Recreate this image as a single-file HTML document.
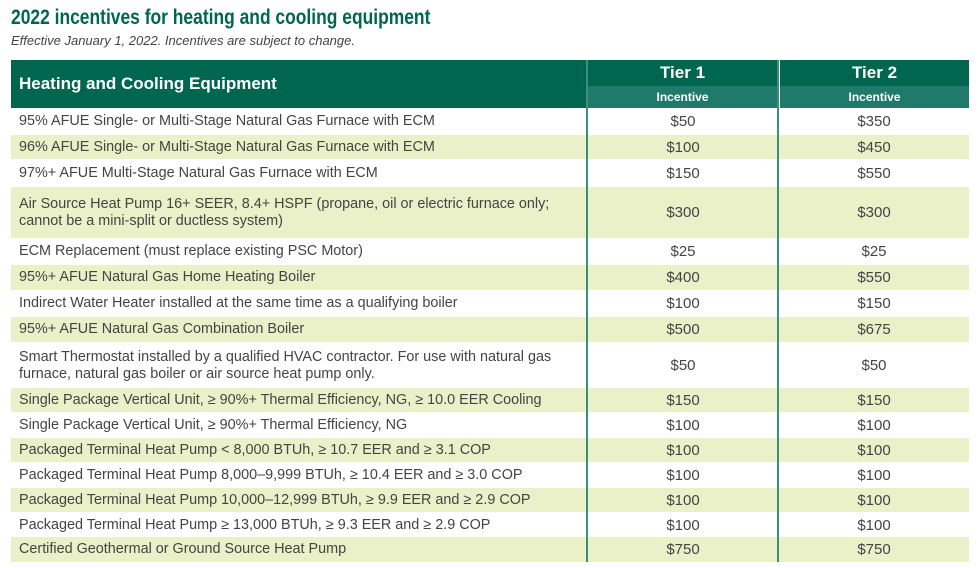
<!DOCTYPE html>
<html><head><meta charset="utf-8"><style>
body{margin:0;width:980px;height:568px;background:#fff;font-family:"Liberation Sans",sans-serif;position:relative;overflow:hidden}
.t{position:absolute;left:11px;top:6px;font-size:21px;font-weight:bold;color:#00664f;transform:scaleX(0.83);transform-origin:left top;white-space:nowrap}
.s{position:absolute;left:11px;top:33px;font-size:13px;font-style:italic;color:#444;white-space:nowrap}
.h{position:absolute;background:#00664f;color:#fff;font-weight:bold}
.r{position:absolute;left:11px;width:958px;color:#444;font-size:14.4px}
.r div{position:absolute;top:0;bottom:0;display:flex;align-items:center}
.g{background:#eaf0c8}
.a{left:8px;width:565px;line-height:17px}
.b{left:577px;width:190px;justify-content:center;font-size:15px}
.c{left:768px;width:190px;justify-content:center;font-size:15px}
.v{position:absolute;top:60px;width:2px;height:502px;background:#3a8f7d}
</style></head><body>
<div class="t">2022 incentives for heating and cooling equipment</div>
<div class="s">Effective January 1, 2022. Incentives are subject to change.</div>
<div class="h" style="left:11px;top:60px;width:575px;height:48px;display:flex;align-items:center;"><span style="margin-left:8px;font-size:17px">Heating and Cooling Equipment</span></div>
<div class="h" style="left:588px;top:60px;width:189px;height:26px;text-align:center;line-height:26px;font-size:17px">Tier 1</div>
<div class="h" style="left:780px;top:60px;width:189px;height:26px;text-align:center;line-height:26px;font-size:17px">Tier 2</div>
<div class="h" style="left:588px;top:86px;width:189px;height:22px;background:#1f7a6c;text-align:center;line-height:22px;font-size:12px">Incentive</div>
<div class="h" style="left:780px;top:86px;width:189px;height:22px;background:#1f7a6c;text-align:center;line-height:22px;font-size:12px">Incentive</div>

<div class="r" style="top:108px;height:26px"><div class="a">95% AFUE Single- or Multi-Stage Natural Gas Furnace with ECM</div><div class="b">$50</div><div class="c">$350</div></div>
<div class="r g" style="top:135px;height:24px"><div class="a">96% AFUE Single- or Multi-Stage Natural Gas Furnace with ECM</div><div class="b">$100</div><div class="c">$450</div></div>
<div class="r" style="top:160px;height:26px"><div class="a">97%+ AFUE Multi-Stage Natural Gas Furnace with ECM</div><div class="b">$150</div><div class="c">$550</div></div>
<div class="r g" style="top:187px;height:51px"><div class="a">Air Source Heat Pump 16+ SEER, 8.4+ HSPF (propane, oil or electric furnace only; cannot be a mini-split or ductless system)</div><div class="b">$300</div><div class="c">$300</div></div>
<div class="r" style="top:239px;height:25px"><div class="a">ECM Replacement (must replace existing PSC Motor)</div><div class="b">$25</div><div class="c">$25</div></div>
<div class="r g" style="top:265px;height:25px"><div class="a">95%+ AFUE Natural Gas Home Heating Boiler</div><div class="b">$400</div><div class="c">$550</div></div>
<div class="r" style="top:291px;height:25px"><div class="a">Indirect Water Heater installed at the same time as a qualifying boiler</div><div class="b">$100</div><div class="c">$150</div></div>
<div class="r g" style="top:317px;height:25px"><div class="a">95%+ AFUE Natural Gas Combination Boiler</div><div class="b">$500</div><div class="c">$675</div></div>
<div class="r" style="top:343px;height:45px"><div class="a">Smart Thermostat installed by a qualified HVAC contractor. For use with natural gas furnace, natural gas boiler or air source heat pump only.</div><div class="b">$50</div><div class="c">$50</div></div>
<div class="r g" style="top:388px;height:24px"><div class="a">Single Package Vertical Unit, ≥ 90%+ Thermal Efficiency, NG, ≥ 10.0 EER Cooling</div><div class="b">$150</div><div class="c">$150</div></div>
<div class="r" style="top:413px;height:24px"><div class="a">Single Package Vertical Unit, ≥ 90%+ Thermal Efficiency, NG</div><div class="b">$100</div><div class="c">$100</div></div>
<div class="r g" style="top:438px;height:24px"><div class="a">Packaged Terminal Heat Pump &lt; 8,000 BTUh, ≥ 10.7 EER and ≥ 3.1 COP</div><div class="b">$100</div><div class="c">$100</div></div>
<div class="r" style="top:463px;height:24px"><div class="a">Packaged Terminal Heat Pump 8,000–9,999 BTUh, ≥ 10.4 EER and ≥ 3.0 COP</div><div class="b">$100</div><div class="c">$100</div></div>
<div class="r g" style="top:488px;height:24px"><div class="a">Packaged Terminal Heat Pump 10,000–12,999 BTUh, ≥ 9.9 EER and ≥ 2.9 COP</div><div class="b">$100</div><div class="c">$100</div></div>
<div class="r" style="top:513px;height:24px"><div class="a">Packaged Terminal Heat Pump ≥ 13,000 BTUh, ≥ 9.3 EER and ≥ 2.9 COP</div><div class="b">$100</div><div class="c">$100</div></div>
<div class="r g" style="top:537px;height:25px"><div class="a">Certified Geothermal or Ground Source Heat Pump</div><div class="b">$750</div><div class="c">$750</div></div>
<div class="v" style="left:586px"></div>
<div class="v" style="left:777px"></div>
</body></html>
